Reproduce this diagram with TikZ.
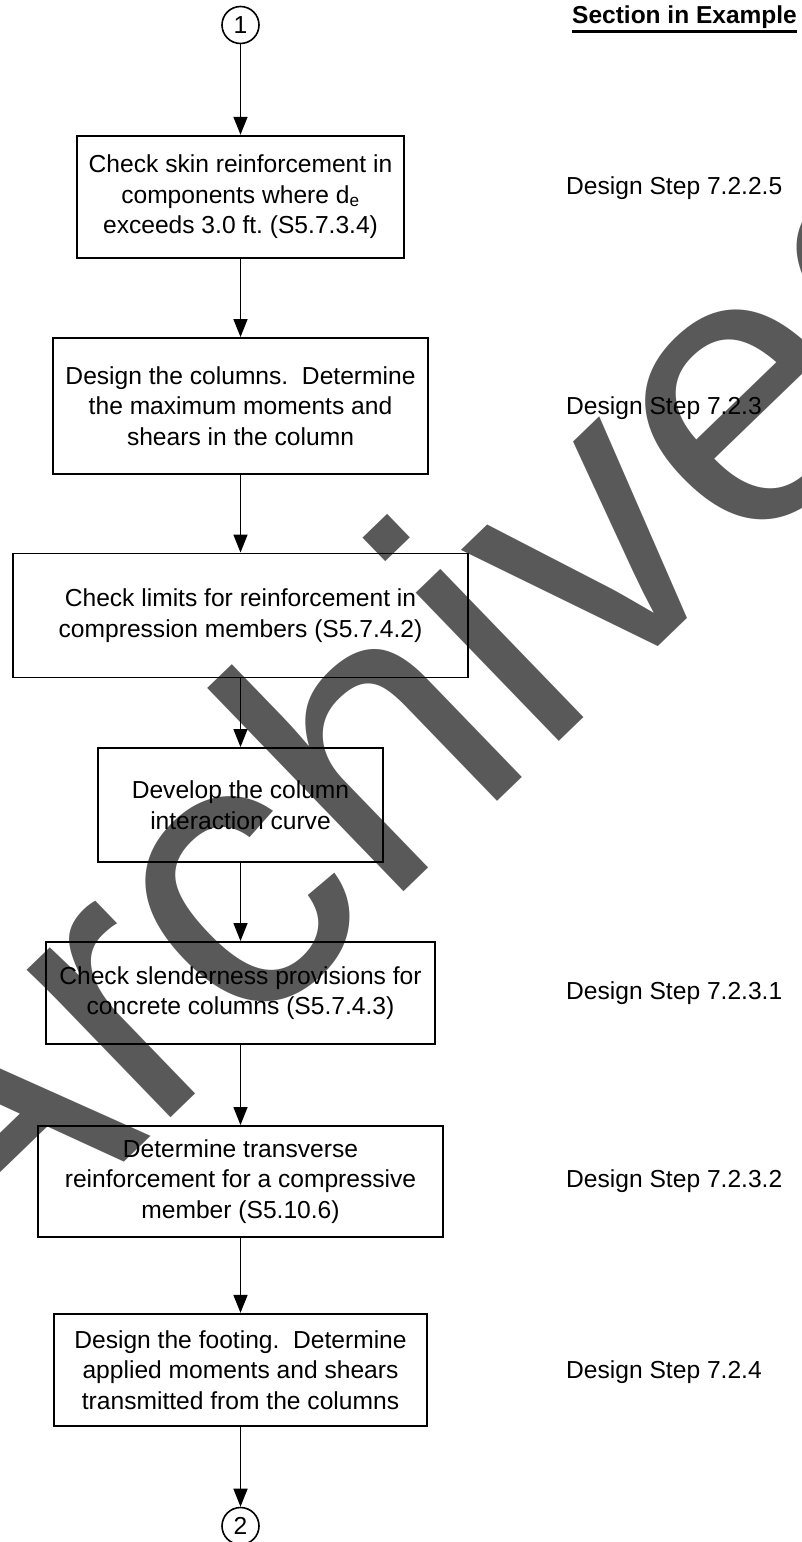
\documentclass[tikz,border=0pt]{standalone}
\usepackage{fontspec}
\setmainfont{Liberation Sans}
\usetikzlibrary{arrows.meta}
\definecolor{wm}{RGB}{89,89,89}
\begin{document}
\frenchspacing
\begin{tikzpicture}[x=1pt,y=-1pt,
  box/.style={draw=black,line width=1.9pt,align=center,inner sep=0pt,font=\fontsize{24.6}{30.5}\selectfont},
  conn/.style={line width=1.6pt,-{Triangle[width=14pt,length=18pt]}},
  circ/.style={draw=black,circle,line width=1.6pt,minimum size=37pt,inner sep=0pt,font=\fontsize{24.6}{30}\selectfont},
  ref/.style={anchor=base west,inner sep=0pt,font=\fontsize{24.6}{30}\selectfont},
  wmstyle/.style={text=wm,rotate=44,anchor=base west,inner sep=0pt,font=\fontsize{390}{390}\selectfont}]
\useasboundingbox (0,0) rectangle (801,1542);
\begin{scope}
  \clip (0,0) rectangle (801,1542);
  \node[wmstyle] (wmark) at (-36,1317) {Archived};
\end{scope}

\node[circ] (c1) at (240.5,25) {1};
\node[box,minimum width=327pt,minimum height=122pt] (b1) at (240.5,196.7)
  {Check skin reinforcement in\\components where d\textsubscript{e}\\exceeds 3.0 ft. (S5.7.3.4)};
\node[box,minimum width=374.6pt,minimum height=136pt] (b2) at (240.5,406)
  {Design the columns.\ \ Determine\\the maximum moments and\\shears in the column};
\node[box,minimum width=454.7pt,minimum height=124pt] (b3) at (240.5,615.5)
  {Check limits for reinforcement in\\compression members (S5.7.4.2)};
\node[box,minimum width=284.6pt,minimum height=114pt] (b4) at (240.5,805)
  {Develop the column\\interaction curve};
\node[box,minimum width=388.3pt,minimum height=102pt] (b5) at (240.5,993)
  {Check slenderness provisions for\\concrete columns (S5.7.4.3)};
\node[box,minimum width=404.7pt,minimum height=111pt] (b6) at (240.5,1181.5)
  {Determine transverse\\reinforcement for a compressive\\member (S5.10.6)};
\node[box,minimum width=372.5pt,minimum height=112pt] (b7) at (240.5,1369.8)
  {Design the footing.\ \ Determine\\applied moments and shears\\transmitted from the columns};
\node[circ] (c2) at (240.5,1526) {2};

\draw[conn] (c1) -- (b1);
\draw[conn] (b1) -- (b2);
\draw[conn] (b2) -- (b3);
\draw[conn] (b3) -- (b4);
\draw[conn] (b4) -- (b5);
\draw[conn] (b5) -- (b6);
\draw[conn] (b6) -- (b7);
\draw[conn] (b7) -- (c2);

\node[anchor=base west,inner sep=0pt,font=\bfseries\fontsize{24.5}{30}\selectfont] (sec) at (572,23) {Section in Example};
\draw[line width=2.4pt] ([yshift=-8.5pt]sec.base west) -- ([yshift=-8.5pt]sec.base east);

\node[ref] (r1) at (566,194) {Design Step 7.2.2.5};
\node[ref] (r2) at (566,414) {Design Step 7.2.3};
\node[ref] (r3) at (566,999) {Design Step 7.2.3.1};
\node[ref] (r4) at (566,1187) {Design Step 7.2.3.2};
\node[ref] (r5) at (566,1378) {Design Step 7.2.4};
\end{tikzpicture}
\end{document}
